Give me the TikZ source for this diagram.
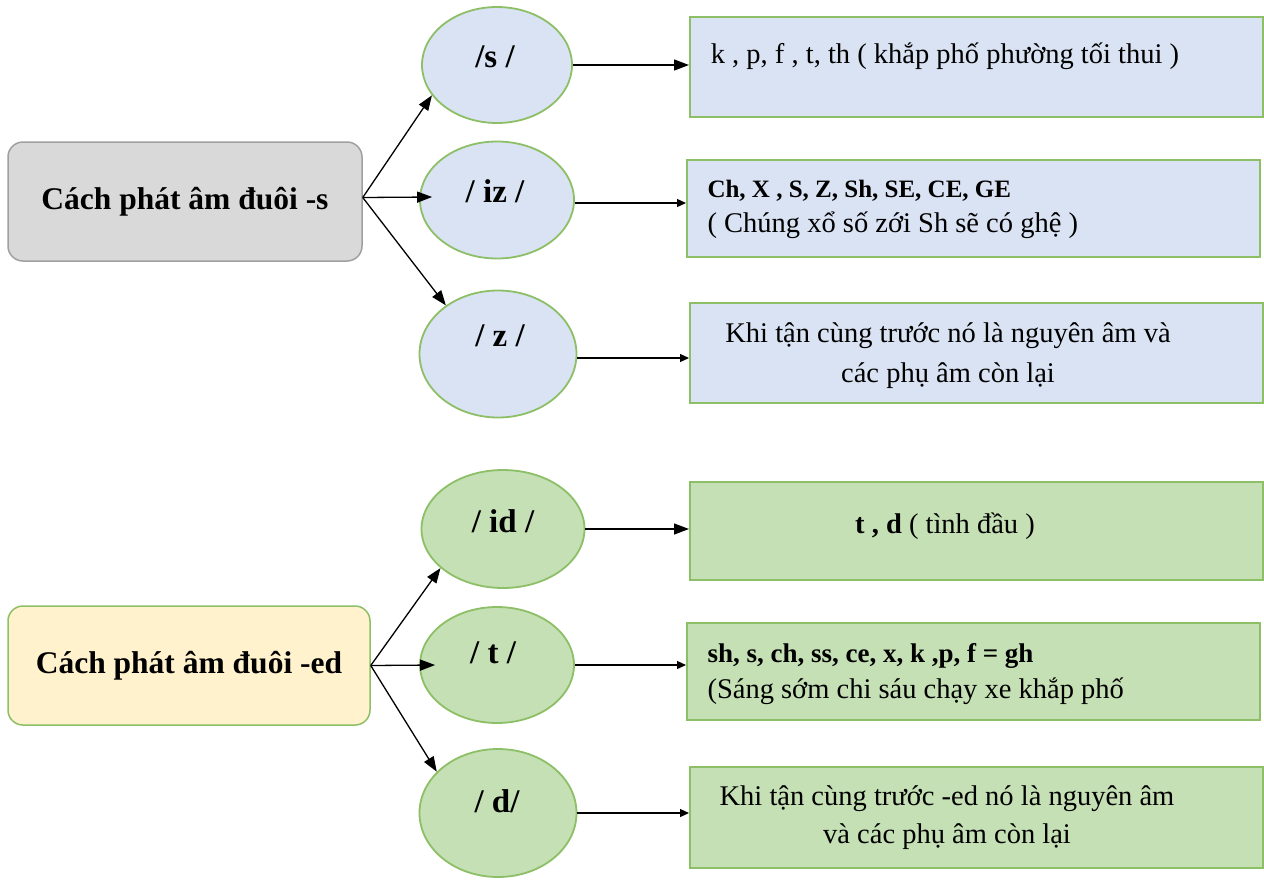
\documentclass[tikz,border=0pt]{standalone}
\usepackage{fontspec}
\setmainfont{Liberation Serif}
\usetikzlibrary{shapes.geometric,arrows.meta,calc}
\definecolor{bluefill}{HTML}{DAE3F3}
\definecolor{greenline}{HTML}{8CBF66}
\definecolor{greenfill}{HTML}{C5E0B4}
\definecolor{yellowfill}{HTML}{FFF2CC}
\definecolor{grayfill}{HTML}{D9D9D9}
\definecolor{grayline}{HTML}{A0A0A0}
\begin{document}
\begin{tikzpicture}[x=1pt,y=-1pt,
  header/.style={rectangle, rounded corners=15pt, line width=1.5pt, inner sep=0pt,
    font=\fontsize{31.5}{36}\selectfont\bfseries},
  bubble/.style={ellipse, draw=greenline, line width=1.8pt, inner sep=0pt},
  infobox/.style={rectangle, draw=greenline, line width=2pt, inner sep=0pt},
  bubbletext/.style={anchor=base, font=\fontsize{33}{38}\selectfont\bfseries},
  bodytext/.style={anchor=base, font=\fontsize{28.5}{33}\selectfont},
  boldtext/.style={anchor=base west, font=\fontsize{27}{31}\selectfont\bfseries},
  bigarrow/.style={line width=1.3pt, -{Triangle[length=15pt,width=11pt]}},
  smallarrow/.style={line width=1.3pt, -{Triangle[length=9pt,width=8pt]}}
]
\useasboundingbox (0,0) rectangle (1264,879);
\fill[white] (0,0) rectangle (1264,879);

% ---------- top part: -s ----------
\node[header, draw=grayline, fill=grayfill, minimum width=354pt, minimum height=119pt]
  (g) at (185,201.5) {Cách phát âm đuôi -s};

\node[bubble, fill=bluefill, minimum width=150pt, minimum height=116pt] (s) at (497,65) {};
\node[bubble, fill=bluefill, minimum width=154pt, minimum height=117pt] (iz) at (497,200) {};
\node[bubble, fill=bluefill, minimum width=157pt, minimum height=127pt] (z) at (498,354) {};
\node[bubbletext] (ts) at (495,67) {/s /};
\node[bubbletext] (tiz) at (495,202) {/ iz /};
\node[bubbletext] (tz) at (500,346) {/ z /};

\node[infobox, fill=bluefill, minimum width=573pt, minimum height=100pt] (b1) at (976.5,67) {};
\node[infobox, fill=bluefill, minimum width=573pt, minimum height=97pt] (b2) at (973.5,208.5) {};
\node[infobox, fill=bluefill, minimum width=573pt, minimum height=100pt] (b3) at (976.5,353) {};

\node[bodytext] (t1) at (945,63) {k , p, f , t, th ( khắp phố phường tối thui )};
\node[boldtext, font=\fontsize{25}{29}\selectfont\bfseries] (t2a) at (704,197) {Ch, X , S, Z, Sh, SE, CE, GE};
\node[bodytext, anchor=base west] (t2b) at (704,232) {( Chúng xổ số zới Sh sẽ có ghệ )};
\node[bodytext] (t3a) at (948,342) {Khi tận cùng trước nó là nguyên âm và};
\node[bodytext] (t3b) at (948,382) {các phụ âm còn lại};

\coordinate (gout) at ($(g.east)+(0,-4)$);
\draw[bigarrow] (gout) -- (s.205);
\draw[bigarrow] (gout) -- ($(iz.west)+(13,-3)$);
\draw[bigarrow] (gout) -- (z.137);

\coordinate (izr) at ($(iz.east)+(0,3)$);
\coordinate (zr) at ($(z.east)+(0,4)$);
\draw[bigarrow] (s.east) -- (s.east -| b1.west);
\draw[smallarrow] (izr) -- (izr -| b2.west);
\draw[smallarrow] (zr) -- (zr -| b3.west);

% ---------- bottom part: -ed ----------
\node[header, draw=greenline, fill=yellowfill, minimum width=362pt, minimum height=119pt]
  (y) at (189,665.5) {Cách phát âm đuôi -ed};

\node[bubble, fill=greenfill, minimum width=163pt, minimum height=118pt] (id) at (503,529) {};
\node[bubble, fill=greenfill, minimum width=154pt, minimum height=116pt] (t) at (497,665) {};
\node[bubble, fill=greenfill, minimum width=157pt, minimum height=128pt] (d) at (498,813) {};
\node[bubbletext] (tid) at (503,532) {/ id /};
\node[bubbletext] (tt) at (493,663) {/ t /};
\node[bubbletext] (td) at (497,812) {/ d/};

\node[infobox, fill=greenfill, minimum width=573pt, minimum height=98pt] (b4) at (976.5,531) {};
\node[infobox, fill=greenfill, minimum width=573pt, minimum height=97pt] (b5) at (973.5,671.5) {};
\node[infobox, fill=greenfill, minimum width=573pt, minimum height=101pt] (b6) at (976.5,817.5) {};

\node[bodytext] (t4) at (945,533) {\textbf{t , d} ( tình đầu )};
\node[boldtext] (t5a) at (704,662) {sh, s, ch, ss, ce, x, k ,p, f = gh};
\node[bodytext, anchor=base west] (t5b) at (704,698) {(Sáng sớm chi sáu chạy xe khắp phố};
\node[bodytext] (t6a) at (947,805) {Khi tận cùng trước -ed nó là nguyên âm};
\node[bodytext] (t6b) at (947,843) {và các phụ âm còn lại};

\draw[bigarrow] (y.east) -- (id.212);
\draw[bigarrow] (y.east) -- ($(t.west)+(16,0)$);
\draw[bigarrow] (y.east) -- (d.146);

\draw[bigarrow] (id.east) -- (id.east -| b4.west);
\draw[smallarrow] (t.east) -- (t.east -| b5.west);
\draw[smallarrow] (d.east) -- (d.east -| b6.west);
\end{tikzpicture}
\end{document}
